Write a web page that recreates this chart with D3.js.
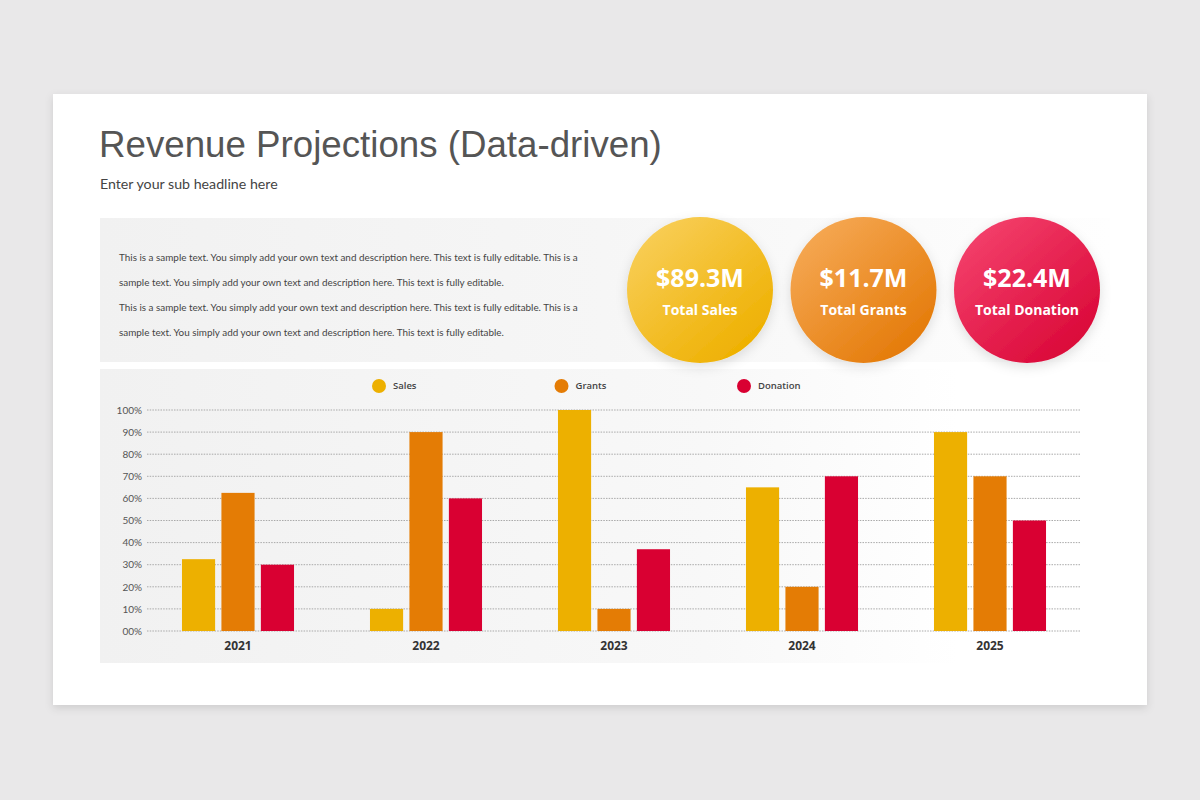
<!DOCTYPE html>
<html><head><meta charset="utf-8">
<script src="https://cdn.jsdelivr.net/npm/d3@7"></script>
<style>
html,body{margin:0;padding:0;background:#e9e8e9;}
svg{display:block;}
</style></head>
<body>
<svg id="c" width="1200" height="800"></svg>
<script>
// ---- data ----
const years = ["2021","2022","2023","2024","2025"];
const seriesNames = ["Sales","Grants","Donation"];
const sales =    [32.5, 10, 100, 65, 90];
const grants =   [62.5, 90, 10, 20, 70];
const donation = [30, 60, 37, 70, 50];
const yTicks = [0,10,20,30,40,50,60,70,80,90,100];
const yTickLabels = ["00%","10%","20%","30%","40%","50%","60%","70%","80%","90%","100%"];
const kpiValues = ["$89.3M","$11.7M","$22.4M"];
const kpiLabels = ["Total Sales","Total Grants","Total Donation"];
const title = "Revenue Projections (Data-driven)";
const subtitle = "Enter your sub headline here";
const paragraph = [
 "This is a sample text. You simply add your own text and description here. This text is fully editable. This is a",
 "sample text. You simply add your own text and description here. This text is fully editable.",
 "This is a sample text. You simply add your own text and description here. This text is fully editable. This is a",
 "sample text. You simply add your own text and description here. This text is fully editable."
];

const colors = {Sales:"#edb000", Grants:"#e47c05", Donation:"#d90032"};
const kpiGrad = [["#f8cd55","#eeb000"],["#f5a752","#e47a08"],["#f33f6a","#da0838"]];

const svg = d3.select("#c");
const defs = svg.append("defs");
const sh = defs.append("filter").attr("id","cardShadow").attr("x","-5%").attr("y","-5%").attr("width","110%").attr("height","115%");
sh.append("feDropShadow").attr("dx",0).attr("dy",3).attr("stdDeviation",4).attr("flood-color","#000").attr("flood-opacity",0.12);
const csh = defs.append("filter").attr("id","circShadow").attr("x","-30%").attr("y","-30%").attr("width","160%").attr("height","160%");
csh.append("feDropShadow").attr("dx",0).attr("dy",4).attr("stdDeviation",6).attr("flood-color","#000").attr("flood-opacity",0.12);

function hgrad(id, stops){
  const g = defs.append("linearGradient").attr("id",id).attr("x1","0").attr("x2","1").attr("y1","0").attr("y2","0");
  stops.forEach(s=>g.append("stop").attr("offset",s[0]).attr("stop-color",s[1]));
}
hgrad("panelTop",[[0,"#f1f1f1"],[0.5,"#f6f6f6"],[1,"#fefefe"]]);
hgrad("panelChart",[[0,"#f1f1f1"],[0.6,"#f8f8f8"],[0.85,"#ffffff"],[1,"#ffffff"]]);
kpiGrad.forEach((c,i)=>{
  const g = defs.append("linearGradient").attr("id","kg"+i).attr("x1","0.15").attr("y1","0.1").attr("x2","0.85").attr("y2","0.9");
  g.append("stop").attr("offset","0").attr("stop-color",c[0]);
  g.append("stop").attr("offset","1").attr("stop-color",c[1]);
});

// card
svg.append("rect").attr("x",53).attr("y",94).attr("width",1094).attr("height",611).attr("fill","#fff").attr("filter","url(#cardShadow)");

// titles
svg.append("text").attr("x",99).attr("y",157).text(title)
  .attr("font-family","'Liberation Sans', Arial, sans-serif").attr("font-size",36.7).attr("fill","#555");
svg.append("text").attr("x",100).attr("y",189).text(subtitle)
  .attr("font-family","Lato, 'Open Sans', sans-serif").attr("font-size",14.2).attr("fill","#444");

// panels
svg.append("rect").attr("x",100).attr("y",218).attr("width",1010).attr("height",144).attr("fill","url(#panelTop)");
svg.append("rect").attr("x",100).attr("y",369).attr("width",1010).attr("height",294).attr("fill","url(#panelChart)");

// paragraph
const py = [261,286,311,336];
svg.append("g").selectAll("text").data(paragraph).join("text")
  .attr("x",119).attr("y",(d,i)=>py[i]).text(d=>d)
  .attr("font-family","Lato, 'Open Sans', sans-serif").attr("font-size",9.9).attr("fill","#444");

// KPI circles
const kx = d3.scalePoint().domain(kpiLabels).range([700,1027]);
const kg = svg.append("g").selectAll("g").data(kpiLabels).join("g")
  .attr("transform",d=>`translate(${kx(d)},290)`);
kg.append("circle").attr("r",73).attr("fill",(d,i)=>`url(#kg${i})`).attr("filter","url(#circShadow)");
kg.append("text").attr("y",-3).attr("text-anchor","middle").text((d,i)=>kpiValues[i])
  .attr("font-family","'Open Sans', sans-serif").attr("font-weight",700).attr("font-size",25).attr("fill","#fff");
kg.append("text").attr("y",25).attr("text-anchor","middle").text(d=>d)
  .attr("font-family","'Open Sans', sans-serif").attr("font-weight",700).attr("font-size",14).attr("fill","#fff");

// chart scales
const y = d3.scaleLinear().domain([0,100]).range([631,410]);
const x0 = d3.scaleBand().domain(years).range([144,1084]).paddingInner(0.404).paddingOuter(0.202);
const x1 = d3.scaleBand().domain(seriesNames).range([0,x0.bandwidth()]).paddingInner(0.16);

// gridlines
svg.append("g").selectAll("line").data(yTicks).join("line")
  .attr("x1",147).attr("x2",1081).attr("y1",d=>y(d)).attr("y2",d=>y(d))
  .attr("stroke","#a9a9a9").attr("stroke-width",1).attr("stroke-dasharray","1.5,1.2");

// y axis labels
const yAxis = d3.axisLeft(y).tickValues(yTicks).tickSize(0).tickPadding(0).tickFormat((d,i)=>yTickLabels[i]);
const ya = svg.append("g").attr("transform","translate(142,0)").call(yAxis);
ya.select(".domain").remove();
ya.selectAll("text").attr("font-family","Lato, 'Open Sans', sans-serif").attr("font-size",10).attr("fill","#555");

// bars
const rows = years.map((yr,i)=>({year:yr, vals:[sales[i],grants[i],donation[i]]}));
const grp = svg.append("g").selectAll("g").data(rows).join("g")
  .attr("transform",d=>`translate(${x0(d.year)},0)`);
grp.selectAll("rect").data(d=>d.vals.map((v,j)=>({s:seriesNames[j],v}))).join("rect")
  .attr("x",d=>x1(d.s)).attr("width",x1.bandwidth())
  .attr("y",d=>y(d.v)).attr("height",d=>y(0)-y(d.v))
  .attr("fill",d=>colors[d.s]);

// x axis labels
const xAxis = d3.axisBottom(x0).tickSize(0).tickPadding(0);
const xa = svg.append("g").attr("transform","translate(0,641)").call(xAxis);
xa.select(".domain").remove();
xa.selectAll("text").attr("font-family","'Open Sans', sans-serif").attr("font-weight",700).attr("font-size",12).attr("fill","#333");

// legend
const lx = d3.scalePoint().domain(seriesNames).range([379,744]);
const lg = svg.append("g").selectAll("g").data(seriesNames).join("g")
  .attr("transform",d=>`translate(${lx(d)},386)`);
lg.append("circle").attr("r",7).attr("fill",d=>colors[d]);
lg.append("text").attr("x",14).attr("dy","0.35em").text(d=>d)
  .attr("font-family","'Open Sans', sans-serif").attr("font-weight",600).attr("font-size",9.5).attr("fill","#444");
</script>
</body></html>
